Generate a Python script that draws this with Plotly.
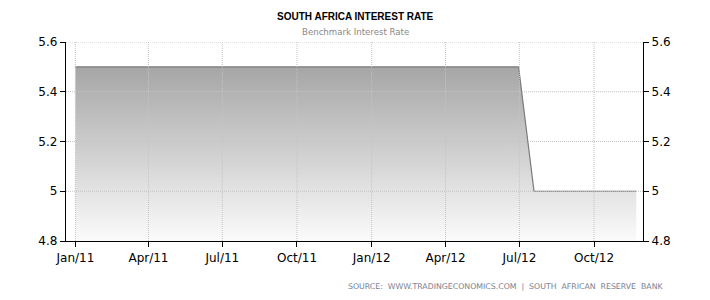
import plotly.graph_objects as go

dates = ["2011-01-01", "2011-03-24", "2011-05-12", "2011-07-21", "2011-09-22",
         "2011-11-10", "2012-01-19", "2012-03-29", "2012-05-24", "2012-06-30",
         "2012-07-19", "2012-09-20", "2012-11-22"]
rates = [5.5, 5.5, 5.5, 5.5, 5.5, 5.5, 5.5, 5.5, 5.5, 5.5, 5.0, 5.0, 5.0]

tick_vals = ["2011-01-01", "2011-04-01", "2011-07-01", "2011-10-01",
             "2012-01-01", "2012-04-01", "2012-07-01", "2012-10-01"]
tick_text = ["Jan/11", "Apr/11", "Jul/11", "Oct/11", "Jan/12", "Apr/12", "Jul/12", "Oct/12"]
y_ticks = [4.8, 5.0, 5.2, 5.4, 5.6]
y_text = ["4.8", "5", "5.2", "5.4", "5.6"]

fig = go.Figure()
fig.add_trace(go.Scatter(
    x=dates, y=rates, mode="lines",
    line=dict(color="#7a7a7a", width=1.2),
    fill="tozeroy",
    fillgradient=dict(type="vertical", start=4.8, stop=5.5,
                      colorscale=[[0, "#fbfbfb"], [1, "#a6a6a6"]]),
    hoverinfo="skip", showlegend=False,
))
fig.add_trace(go.Scatter(
    x=dates, y=rates, mode="lines", yaxis="y2",
    line=dict(color="rgba(0,0,0,0)", width=0),
    hoverinfo="skip", showlegend=False,
))

grid_style = dict(color="#c4c4c4", width=1, dash="1px,1px")
# dotted gridlines drawn above the filled area, at the tick positions
for tv in tick_vals:
    fig.add_shape(type="line", xref="x", yref="paper", x0=tv, x1=tv, y0=0, y1=1,
                  line=grid_style, layer="above")
for yv in y_ticks[1:]:
    fig.add_shape(type="line", xref="paper", yref="y", x0=0, x1=1, y0=yv, y1=yv,
                  line=grid_style, layer="above")

font = "DejaVu Sans"
axis_common = dict(
    showline=True, linecolor="#000", linewidth=1.3,
    ticks="outside", ticklen=5, tickcolor="#000", tickwidth=1,
    tickfont=dict(family=font, size=12, color="#000"),
    zeroline=False, showgrid=False, layer="above traces",
)
fig.update_layout(
    width=710, height=300,
    margin=dict(l=66, r=67, t=42, b=59),
    paper_bgcolor="#fff", plot_bgcolor="#fff",
    xaxis=dict(
        type="date", range=["2010-12-20 10:00", "2012-11-30 07:00"],
        tickvals=tick_vals, ticktext=tick_text,
        **axis_common,
    ),
    yaxis=dict(
        range=[4.8, 5.6], tickvals=y_ticks, ticktext=y_text,
        **axis_common,
    ),
    yaxis2=dict(
        range=[4.8, 5.6], tickvals=y_ticks, ticktext=y_text,
        overlaying="y", side="right",
        **axis_common,
    ),
    annotations=[
        dict(text="<b>SOUTH AFRICA INTEREST RATE</b>", x=355, y=300 - 16,
             xref="paper", yref="paper", showarrow=False,
             font=dict(family="Liberation Sans", size=10, color="#000")),
        dict(text="Benchmark Interest Rate", x=355, y=300 - 32,
             xref="paper", yref="paper", showarrow=False,
             font=dict(family="DejaVu Sans", size=8.6, color="#888")),
        dict(text="SOURCE:  WWW.TRADINGECONOMICS.COM  |  SOUTH  AFRICAN  RESERVE  BANK",
             x=666, y=300 - 286, xref="paper", yref="paper", showarrow=False,
             xanchor="right",
             font=dict(family="DejaVu Sans", size=7.8, color="#7a8290")),
    ],
)
# convert pixel positions for annotations to paper coords
for a in fig.layout.annotations:
    a.x = (a.x - 66) / (710 - 66 - 67)
    a.y = (a.y - 59) / (300 - 42 - 59)
    a.yanchor = "middle"

fig.write_html("out.html")
